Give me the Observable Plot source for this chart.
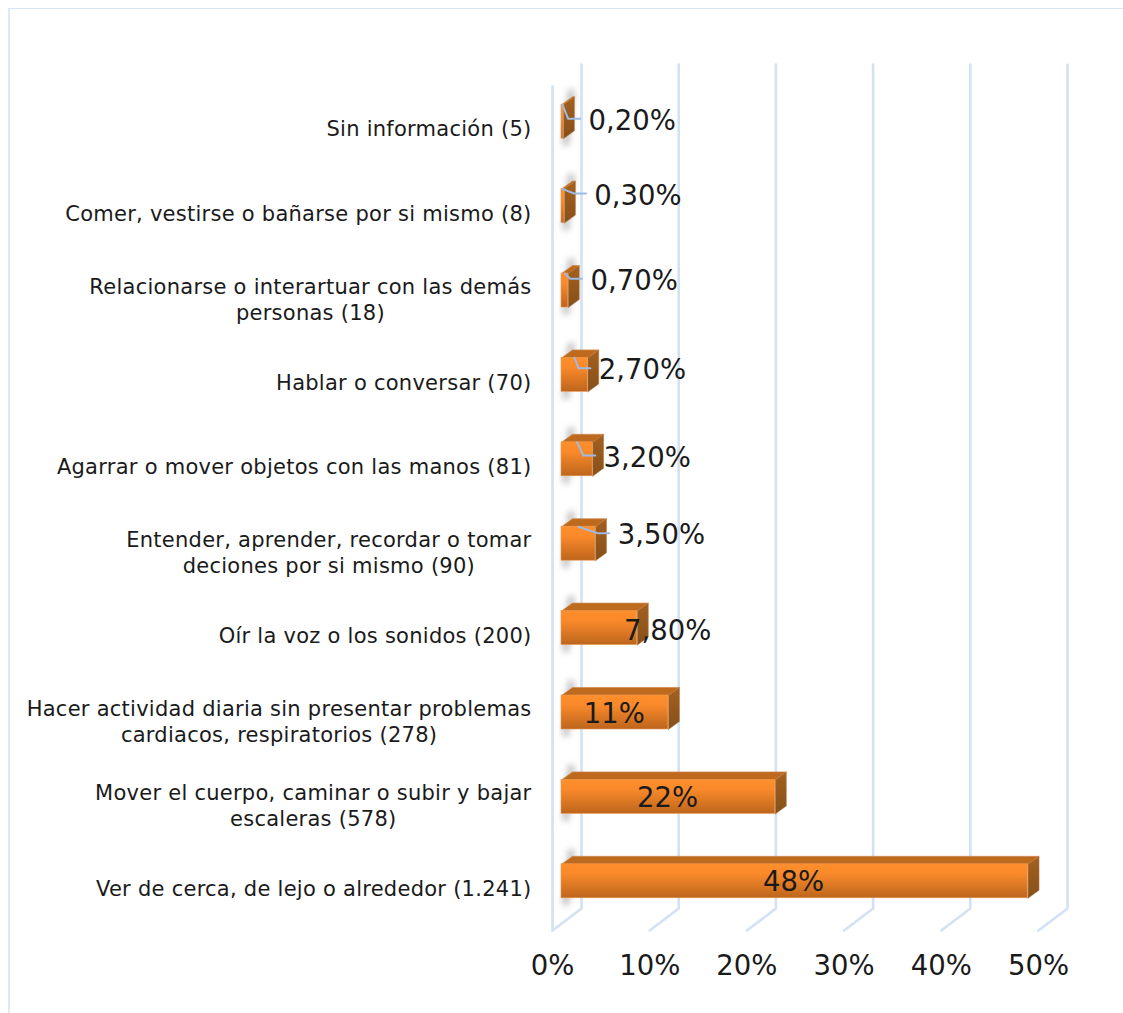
<!DOCTYPE html>
<html lang="es">
<head>
<meta charset="utf-8">
<script src="https://cdn.jsdelivr.net/npm/d3@7"></script>
<script src="https://cdn.jsdelivr.net/npm/@observablehq/plot@0.6"></script>
<style>
html,body{margin:0;padding:0;background:#fff;overflow:hidden}
#wrap{position:relative;width:1123px;height:1013px}
#edge{position:absolute;left:8px;top:8px;right:0;bottom:0;border-top:1.5px solid #D6E4F5;border-left:2.5px solid #DFE9F6;pointer-events:none}
#wrap svg{display:block}
#wrap svg g[font-size="21"]{letter-spacing:0.26px}
</style>
</head>
<body>
<div id="wrap"><div id="edge"></div></div>
<script>
// Categories listed from the bottom of the chart upward
const categories = [
  "Ver de cerca, de lejo o alrededor (1.241)",
  "Mover el cuerpo, caminar o subir y bajar\nescaleras (578)",
  "Hacer actividad diaria sin presentar problemas\ncardiacos, respiratorios (278)",
  "Oír la voz o los sonidos (200)",
  "Entender, aprender, recordar o tomar\ndeciones por si mismo (90)",
  "Agarrar o mover objetos con las manos (81)",
  "Hablar o conversar (70)",
  "Relacionarse o interartuar con las demás\npersonas (18)",
  "Comer, vestirse o bañarse por si mismo (8)",
  "Sin información (5)"
];
const values = [48, 22, 11, 7.8, 3.5, 3.2, 2.7, 0.7, 0.3, 0.2];
const valueLabels = ["48%", "22%", "11%", "7,80%", "3,50%", "3,20%", "2,70%", "0,70%", "0,30%", "0,20%"];
// Where each value label sits, read in axis units (percent, row)
const labelPercent = [24.8, 11.85, 6.35, 11.85, 11.2, 9.75, 9.25, 8.4, 8.8, 8.2];
const labelRow = [0.585, 1.58, 2.575, 3.555, 4.69, 5.61, 6.645, 7.705, 8.715, 9.6];
const hasLeader = [false, false, false, false, true, true, true, true, true, true];
const xTicks = [0, 10, 20, 30, 40, 50];

const W = 1123, H = 1013;
const marginLeft = 552, marginRight = 85, marginTop = 86, marginBottom = 83;
const pxX = 50 / (W - marginLeft - marginRight);      // percent per pixel
const pxY = 10 / (H - marginTop - marginBottom);      // rows per pixel

const font = "DejaVu Sans";
const catSize = 21, catSpacing = 0.26, valueSize = 27.5;
const wallColor = "#D3E1F4";
const ink = "#1a1a1a";

const rows = categories.map((c, i) => ({c, v: values[i], row: i}));

// Bar geometry in axis units
const startX = 9 * pxX, liftY = 7 * pxY, halfH = 17 * pxY;
const depthX = 11 * pxX, depthY = 8 * pxY;
const x0 = d => startX;
const x1 = d => startX + d.v;
const yb = d => d.row + 0.5 + liftY - halfH;
const yt = d => d.row + 0.5 + liftY + halfH;

const closed = (rs, f) => rs.flatMap(d => f(d).map(([x, y]) => ({x, y, z: d.row})));
const topFaces = closed(rows, d => [
  [x0(d), yt(d)], [x1(d), yt(d)], [x1(d) + depthX, yt(d) + depthY], [x0(d) + depthX, yt(d) + depthY], [x0(d), yt(d)]
]);
const sideFaces = closed(rows, d => [
  [x1(d), yb(d)], [x1(d) + depthX, yb(d) + depthY], [x1(d) + depthX, yt(d) + depthY], [x1(d), yt(d)], [x1(d), yb(d)]
]);

// Walls: one receding floor line per tick, and vertical back lines
const wallDX = 29 * pxX, wallDY = 22 * pxY;
const wallLines = xTicks.flatMap(t => [
  {x: t, y: 0, z: t},
  {x: t + wallDX, y: wallDY, z: t},
  {x: t + wallDX, y: 10 + wallDY, z: t}
]);
const sideWall = [{x: 0, y: 0}, {x: 0, y: 10}];

// Leader lines from the bar's front top edge to its label
const leaders = rows.filter(d => hasLeader[d.row]).flatMap(d => {
  const endX = labelPercent[d.row] - 52 * pxX;
  const elbowY = labelRow[d.row] + 1.5 * pxY;
  return [
    {x: startX + d.v / 2, y: yt(d), z: d.row},
    {x: endX - 12 * pxX, y: elbowY, z: d.row},
    {x: endX, y: elbowY, z: d.row}
  ];
});

// Two-line labels are centred on each other, with the block ending at the same right edge
const ctx = document.createElement("canvas").getContext("2d");
ctx.font = `${catSize}px "${font}"`;
const lineWidth = l => ctx.measureText(l).width + catSpacing * l.length;
const labelRight = -21;
const catMarks = rows.map(d => {
  const lines = d.c.split("\n");
  if (lines.length === 1) {
    return Plot.text([d], {x: () => 0, y: r => r.row + 0.5, text: "c", textAnchor: "end", dx: labelRight, dy: 1,
      fontSize: catSize, fontFamily: font, fill: ink});
  }
  const w = Math.max(...lines.map(lineWidth));
  return Plot.text([d], {x: () => 0, y: r => r.row + 0.5, text: "c", textAnchor: "middle", dx: labelRight - w / 2, dy: 1,
    lineHeight: 1.24, fontSize: catSize, fontFamily: font, fill: ink});
});

const gradients = () => {
  const defs = d3.create("svg:defs");
  const add = (id, stops) => {
    const g = defs.append("linearGradient").attr("id", id).attr("x1", 0).attr("y1", 0).attr("x2", 0).attr("y2", 1);
    stops.forEach(([o, c]) => g.append("stop").attr("offset", o).attr("stop-color", c));
  };
  add("frontGrad", [[0, "#FF8F2B"], [0.3, "#F9892A"], [1, "#BD651C"]]);
  add("sideGrad", [[0, "#A5601F"], [1, "#85501A"]]);
  return defs.node();
};

const chart = Plot.plot({
  width: W, height: H,
  marginLeft, marginRight, marginTop, marginBottom,
  style: {background: "transparent", fontFamily: font},
  x: {domain: [0, 50], axis: null},
  y: {domain: [0, 10], axis: null},
  marks: [
    gradients,
    Plot.line(wallLines, {x: "x", y: "y", z: "z", stroke: wallColor, strokeWidth: 2.6}),
    Plot.line(sideWall, {x: "x", y: "y", stroke: wallColor, strokeWidth: 2.6}),
    // soft shadow slanting behind the left end of each bar
    Plot.link(rows, {
      x1: d => x0(d) + 4 * pxX, y1: d => yb(d) - 7 * pxY,
      x2: d => x0(d) + 10 * pxX, y2: d => yt(d) + 15 * pxY,
      stroke: "#888", strokeOpacity: 0.5, strokeWidth: 7, imageFilter: "blur(3px)"
    }),
    Plot.line(topFaces, {x: "x", y: "y", z: "z", fill: "#BE6A1E", stroke: "#D08A4E", strokeWidth: 0.7}),
    Plot.line(sideFaces, {x: "x", y: "y", z: "z", fill: "url(#sideGrad)", stroke: "#B8793F", strokeWidth: 0.5}),
    Plot.rect(rows, {x1: x0, x2: x1, y1: yb, y2: yt, fill: "url(#frontGrad)", stroke: "#E89A55", strokeWidth: 0.6}),
    Plot.line(leaders, {x: "x", y: "y", z: "z", stroke: "#9DBBE3", strokeWidth: 2}),
    ...catMarks,
    Plot.text(rows, {x: d => labelPercent[d.row], y: d => labelRow[d.row], dy: 1, text: d => valueLabels[d.row],
      fontSize: valueSize, fontFamily: font, fill: ink}),
    Plot.axisX({anchor: "bottom", ticks: xTicks, tickSize: 0, tickPadding: 25, tickFormat: d => d + "%", label: null,
      fontSize: valueSize, fontFamily: font, color: ink})
  ]
});
document.getElementById("wrap").appendChild(chart);
</script>
</body>
</html>
